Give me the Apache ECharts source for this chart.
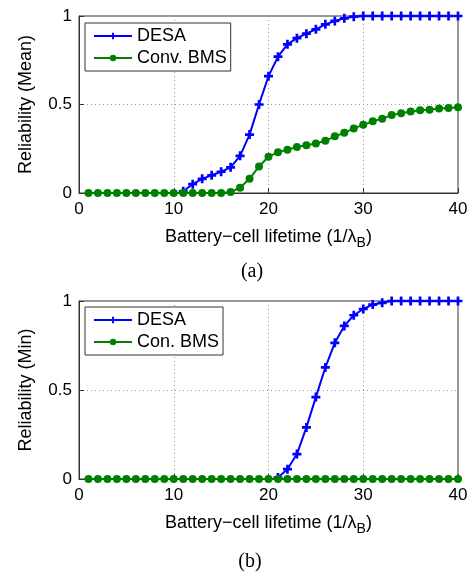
<!DOCTYPE html>
<html><head><meta charset="utf-8">
<script src="https://cdn.jsdelivr.net/npm/echarts@6/dist/echarts.min.js"></script>
<style>html,body{margin:0;padding:0;background:#fff}#c{width:473px;height:574px}</style>
</head><body><div id="c"></div>
<script>
// x values: battery-cell lifetime (1/λB)
const lifetimes = [1,2,3,4,5,6,7,8,9,10,11,12,13,14,15,16,17,18,19,20,21,22,23,24,25,26,27,28,29,30,31,32,33,34,35,36,37,38,39,40];
// (a) Reliability (Mean)
const desaMean = [null,null,null,null,null,null,null,null,null,null,0.01,0.05,0.08,0.10,0.12,0.145,0.21,0.33,0.50,0.66,0.77,0.84,0.875,0.90,0.925,0.953,0.972,0.987,0.996,1,1,1,1,1,1,1,1,1,1,1];
const convMean = [0,0,0,0,0,0,0,0,0,0,0,0,0,0,0,0.005,0.03,0.08,0.15,0.205,0.23,0.245,0.26,0.27,0.28,0.295,0.32,0.34,0.365,0.385,0.405,0.42,0.44,0.45,0.46,0.467,0.47,0.477,0.48,0.485];
// (b) Reliability (Min)
const desaMin = [null,null,null,null,null,null,null,null,null,null,null,null,null,null,null,null,null,null,null,null,0.008,0.055,0.14,0.29,0.46,0.627,0.765,0.86,0.92,0.955,0.98,0.99,1,1,1,1,1,1,1,1];
const convMin = [0,0,0,0,0,0,0,0,0,0,0,0,0,0,0,0,0,0,0,0,0,0,0,0,0,0,0,0,0,0,0,0,0,0,0,0,0,0,0,0];
const xTicks = [0,10,20,30,40];
const yTicks = [0,0.5,1];

const pair = (ys) => lifetimes.map((x,i)=>[x, ys[i]]);
const FONT = 'Liberation Sans';
const plus = 'path://M3.5,0h3v3.5h3.5v3h-3.5v3.5h-3v-3.5h-3.5v-3h3.5z';
const BLUE = '#0000ff', GREEN = '#008000';

function xAxis(gi){
  return {type:'value', gridIndex:gi, min:xTicks[0], max:xTicks[xTicks.length-1], interval:10,
    name:'Battery\u2212cell lifetime (1/\u03bb{sub|B})', nameLocation:'middle', nameGap:31,
    nameTextStyle:{color:'#000', fontSize:18, fontFamily:FONT, rich:{sub:{fontSize:14, fontFamily:FONT, color:'#000', verticalAlign:'bottom', padding:[12,0,0,0]}}},
    axisLine:{show:true, lineStyle:{color:'#333'}}, axisTick:{inside:true, length:5, lineStyle:{color:'#333'}},
    axisLabel:{color:'#000', fontSize:17, fontFamily:FONT, margin:8},
    splitLine:{show:true, lineStyle:{color:'#999', type:[1,3]}}};
}
function yAxis(gi, name){
  return {type:'value', gridIndex:gi, min:yTicks[0], max:yTicks[yTicks.length-1], interval:0.5,
    name:name, nameLocation:'middle', nameGap:44, nameRotate:90,
    nameTextStyle:{color:'#000', fontSize:18, fontFamily:FONT},
    axisLine:{show:true, lineStyle:{color:'#333'}}, axisTick:{show:true, inside:true, length:5, lineStyle:{color:'#333'}},
    axisLabel:{color:'#000', fontSize:17, fontFamily:FONT, margin:7},
    splitLine:{show:true, lineStyle:{color:'#999', type:[1,3]}}};
}
function legend(top, names){
  return {orient:'vertical', left:85, top:top, data:names, padding:[4,4,4,8], itemGap:4,
    itemWidth:38, itemHeight:8, borderColor:'#333', borderWidth:1, backgroundColor:'#fff',
    textStyle:{color:'#000', fontSize:18, lineHeight:18, fontFamily:FONT, padding:[0,0,0,0]}};
}
function blueS(name, data, xi){
  return {name:name, type:'line', xAxisIndex:xi, yAxisIndex:xi, data:pair(data), symbol:plus, symbolSize:9,
    showAllSymbol:true, lineStyle:{color:BLUE, width:2}, itemStyle:{color:BLUE}, emphasis:{disabled:true}};
}
function greenS(name, data, xi){
  return {name:name, type:'line', xAxisIndex:xi, yAxisIndex:xi, data:pair(data), symbol:'circle', symbolSize:8,
    showAllSymbol:true, lineStyle:{color:GREEN, width:2}, itemStyle:{color:GREEN}, emphasis:{disabled:true}};
}
const chart = echarts.init(document.getElementById('c'), null, {renderer:'canvas'});
chart.setOption({
  animation:false,
  grid:[
    {left:79, top:16, width:379, height:177, show:true, borderColor:'#333', borderWidth:1},
    {left:79, top:301, width:379, height:178, show:true, borderColor:'#333', borderWidth:1}
  ],
  xAxis:[xAxis(0), xAxis(1)],
  yAxis:[yAxis(0,'Reliability (Mean)'), yAxis(1,'Reliability (Min)')],
  legend:[legend(23,['DESA','Conv. BMS']), legend(307,['DESA ','Con. BMS'])],
  series:[
    blueS('DESA', desaMean, 0), greenS('Conv. BMS', convMean, 0),
    blueS('DESA ', desaMin, 1), greenS('Con. BMS', convMin, 1)
  ],
  graphic:[
    {type:'text', x:252, y:272, style:{text:'(a)', font:'20px "Liberation Serif"', fill:'#000', align:'center', verticalAlign:'middle'}},
    {type:'text', x:250, y:562, style:{text:'(b)', font:'20px "Liberation Serif"', fill:'#000', align:'center', verticalAlign:'middle'}}
  ]
});
</script></body></html>
